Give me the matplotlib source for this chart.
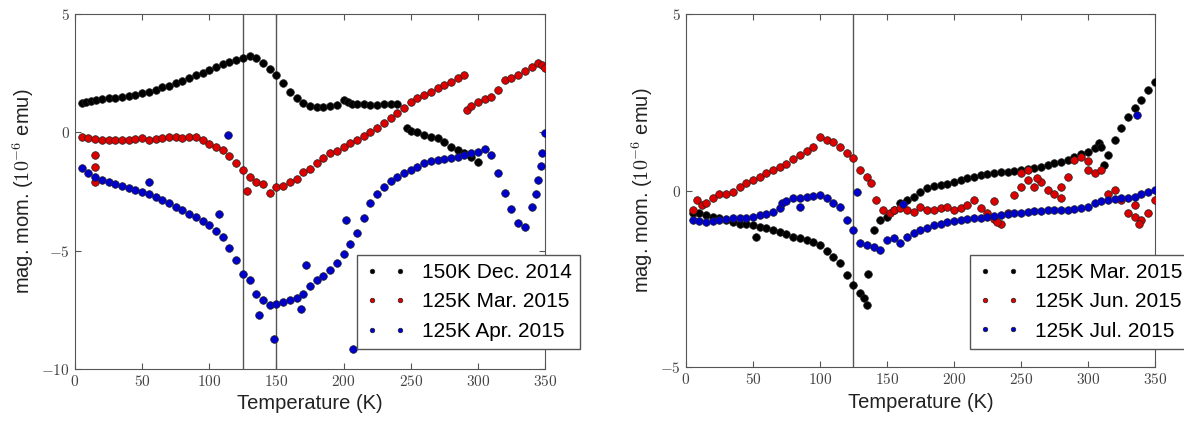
import matplotlib
matplotlib.use("Agg")
import matplotlib.pyplot as plt
from matplotlib.ticker import FuncFormatter

# --- panel (a): temperature (K) and magnetic moment (1e-6 emu) ---
dec14_T = [5, 8, 12, 16, 20, 25, 30, 35, 40, 45, 50, 55, 60, 65, 70, 75, 80, 85, 90, 95,
           100, 105, 110, 115, 120, 125, 130, 135, 140, 145, 150, 155, 160, 165, 170, 175,
           180, 185, 190, 195, 200, 203, 206, 210, 215, 220, 225, 230, 235, 240,
           247, 250, 255, 260, 265, 270, 275, 280, 285, 290, 295, 300]
dec14_M = [1.23, 1.28, 1.32, 1.38, 1.40, 1.44, 1.46, 1.50, 1.55, 1.60, 1.65, 1.72, 1.80, 1.90,
           1.98, 2.07, 2.18, 2.30, 2.42, 2.52, 2.64, 2.75, 2.88, 2.99, 3.07, 3.13, 3.23, 3.15,
           2.92, 2.70, 2.43, 2.10, 1.72, 1.45, 1.23, 1.12, 1.09, 1.08, 1.11, 1.15, 1.37, 1.30,
           1.22, 1.18, 1.20, 1.17, 1.15, 1.20, 1.18, 1.20,
           0.17, 0.08, 0.00, -0.11, -0.18, -0.25, -0.40, -0.60, -0.75, -0.89, -1.05, -1.24]

mar15_T = [5, 10, 15, 20, 25, 30, 35, 40, 45, 50, 55, 60, 65, 70, 75, 80, 85, 90, 95, 100,
           105, 110, 115, 120, 125, 130, 135, 140, 145, 150, 155, 160, 165, 170, 175, 180,
           185, 190, 195, 200, 205, 210, 215, 220, 225, 230, 235, 240, 245, 250, 255, 260,
           265, 270, 275, 280, 285, 290,
           292, 295, 300, 305, 310, 315, 320, 325, 330, 335, 340, 345, 348, 350,
           15, 15, 15, 128]
mar15_M = [-0.18, -0.25, -0.28, -0.30, -0.32, -0.30, -0.33, -0.30, -0.28, -0.25, -0.30, -0.28,
           -0.22, -0.20, -0.18, -0.22, -0.20, -0.18, -0.30, -0.47, -0.60, -0.75, -1.00, -1.31,
           -1.59, -1.88, -2.09, -2.16, -2.58, -2.30, -2.25, -2.09, -1.95, -1.66, -1.55, -1.31,
           -1.10, -0.89, -0.80, -0.61, -0.45, -0.32, -0.15, 0.03, 0.20, 0.38, 0.60, 0.80, 1.05,
           1.30, 1.45, 1.58, 1.72, 1.86, 2.00, 2.14, 2.28, 2.43,
           0.94, 1.10, 1.30, 1.40, 1.51, 1.80, 2.21, 2.30, 2.43, 2.60, 2.78, 2.92, 2.85, 2.71,
           -0.96, -1.45, -2.09, -2.47]

apr15_T = [5, 10, 15, 20, 25, 30, 35, 40, 45, 50, 55, 60, 65, 70, 75, 80, 85, 90, 95, 100,
           105, 110, 115, 120, 125, 130, 135, 140, 145, 150, 155, 160, 165, 170, 175, 180,
           185, 190, 195, 200, 205, 210, 215, 220, 225, 230, 235, 240, 245, 250, 255, 260,
           265, 270, 275, 280, 285, 290, 295, 300, 305, 310, 315, 320, 325, 330, 335, 340,
           343, 345, 347, 348, 350,
           114, 55, 107, 137, 148, 172, 168, 202, 207]
apr15_M = [-1.52, -1.70, -1.88, -2.00, -2.09, -2.20, -2.28, -2.37, -2.45, -2.51, -2.60, -2.72,
           -2.85, -3.00, -3.15, -3.30, -3.45, -3.57, -3.75, -3.92, -4.15, -4.41, -4.90, -5.40,
           -5.97, -6.25, -6.81, -7.09, -7.31, -7.24, -7.15, -7.09, -7.00, -6.81, -6.50, -6.25,
           -6.05, -5.83, -5.50, -5.12, -4.70, -4.27, -3.60, -3.00, -2.60, -2.30, -2.05, -1.88,
           -1.72, -1.59, -1.45, -1.31, -1.22, -1.17, -1.12, -1.10, -1.03, -0.96, -0.88, -0.82,
           -0.72, -0.96, -1.73, -2.58, -3.25, -3.85, -3.99, -3.15, -2.60, -2.02, -1.40, -0.89,
           -0.04,
           -0.11, -2.09, -3.43, -7.73, -8.72, -5.59, -7.45, -3.71, -9.17]

# --- panel (b) ---
mar15b_T = [5, 10, 15, 20, 25, 30, 35, 40, 45, 50, 55, 60, 65, 70, 75, 80, 85, 90, 95, 100,
            105, 110, 115, 120, 125, 130, 133, 135,
            140, 145, 150, 155, 160, 165, 170, 175, 180, 185, 190, 195, 200, 205, 210, 215,
            220, 225, 230, 235, 240, 245, 250, 255, 260, 265, 270, 275, 280, 285, 290, 295,
            300, 305, 308, 310, 312, 315, 320, 325, 330, 335, 340, 345, 350,
            52, 136]
mar15b_M = [-0.64, -0.64, -0.70, -0.74, -0.78, -0.83, -0.88, -0.93, -0.95, -0.97, -1.02, -1.07,
            -1.10, -1.16, -1.22, -1.30, -1.35, -1.40, -1.45, -1.54, -1.70, -1.87, -2.06, -2.39,
            -2.67, -2.91, -3.05, -3.24,
            -1.11, -0.83, -0.74, -0.55, -0.36, -0.25, -0.17, -0.05, 0.07, 0.12, 0.16, 0.20,
            0.25, 0.30, 0.35, 0.40, 0.44, 0.47, 0.49, 0.52, 0.54, 0.57, 0.59, 0.61, 0.63, 0.68,
            0.73, 0.78, 0.82, 0.88, 0.96, 1.03, 1.10, 1.20, 1.34, 1.25, 0.73, 1.00, 1.44, 1.78,
            2.10, 2.35, 2.57, 2.85, 3.09,
            -1.32, -2.36]

jun15_T = [5, 8, 12, 15, 20, 25, 30, 35, 40, 45, 50, 55, 60, 65, 70, 75, 80, 85, 90, 95, 100,
           105, 110, 115, 120, 125, 130, 135, 138, 142, 147, 152, 155, 160, 165, 170, 175,
           180, 185, 190, 195, 200, 205, 210, 215, 220, 225, 230, 235, 240, 245, 250, 255,
           260, 265, 270, 275, 280, 285, 290, 295, 300, 305, 310, 315, 320, 325, 330, 335,
           340, 345, 350,
           230, 232, 250, 255, 262, 280, 300, 335, 338]
jun15_M = [-0.55, -0.26, -0.40, -0.36, -0.20, -0.08, -0.10, -0.03, 0.10, 0.21, 0.30, 0.40,
           0.50, 0.59, 0.68, 0.77, 0.90, 1.01, 1.12, 1.25, 1.53, 1.44, 1.39, 1.25, 1.06, 0.92,
           0.59, 0.40, 0.21, -0.26, -0.55, -0.64, -0.55, -0.50, -0.55, -0.60, -0.45, -0.55,
           -0.55, -0.50, -0.45, -0.55, -0.50, -0.40, -0.26, -0.50, -0.64, -0.80, -0.93, -0.64,
           -0.12, 0.49, 0.30, 0.11, 0.25, 0.02, -0.08, 0.11, 0.40, 0.87, 0.96, 0.59, 0.49, 0.59,
           -0.08, 0.02, -0.26, -0.64, -0.74, -0.83, -0.64, -0.26,
           -0.30, -0.90, 0.10, 0.60, 0.35, -0.20, 0.85, -0.40, -0.95]

jul15_T = [5, 10, 15, 20, 25, 30, 35, 40, 45, 50, 55, 60, 65, 70, 72, 75, 80, 85, 90, 95, 100,
           105, 110, 115, 120, 125, 130, 135, 140, 145, 150, 155, 160, 165, 170, 175, 180,
           185, 190, 195, 200, 205, 210, 215, 220, 225, 230, 235, 240, 245, 250, 255, 260,
           265, 270, 275, 280, 285, 290, 295, 300, 305, 310, 315, 320, 325, 330, 335, 340,
           345, 350,
           128, 337, 162, 85]
jul15_M = [-0.83, -0.85, -0.88, -0.85, -0.83, -0.80, -0.78, -0.78, -0.78, -0.74, -0.69, -0.65,
           -0.59, -0.50, -0.36, -0.30, -0.22, -0.20, -0.17, -0.15, -0.12, -0.22, -0.36, -0.45,
           -0.83, -1.11, -1.49, -1.55, -1.59, -1.68, -1.40, -1.35, -1.49, -1.30, -1.20, -1.11,
           -1.05, -0.97, -0.93, -0.88, -0.85, -0.83, -0.80, -0.78, -0.76, -0.74, -0.71, -0.69,
           -0.66, -0.64, -0.62, -0.59, -0.58, -0.57, -0.56, -0.55, -0.55, -0.55, -0.53, -0.50,
           -0.45, -0.36, -0.30, -0.26, -0.24, -0.22, -0.20, -0.17, -0.10, -0.03, 0.02,
           -0.03, 2.14, -0.38, -0.45]

left_series = [(dec14_T, dec14_M, "k", "150K Dec. 2014"),
               (mar15_T, mar15_M, "#dd0000", "125K Mar. 2015"),
               (apr15_T, apr15_M, "#0000cc", "125K Apr. 2015")]
right_series = [(mar15b_T, mar15b_M, "k", "125K Mar. 2015"),
                (jun15_T, jun15_M, "#dd0000", "125K Jun. 2015"),
                (jul15_T, jul15_M, "#0000cc", "125K Jul. 2015")]

plt.rcParams["font.family"] = ["Liberation Sans", "DejaVu Sans"]
plt.rcParams["mathtext.fontset"] = "cm"

gray = "#555555"
tickfmt = FuncFormatter(lambda v, p: "$%d$" % v)

fig = plt.figure(figsize=(11.84, 4.21), dpi=100)
ax1 = fig.add_axes([0.0633, 0.1235, 0.397, 0.843])
ax2 = fig.add_axes([0.5794, 0.128, 0.396, 0.838])


def draw(ax, series, ylim, yticks, vlines, anchor):
    for T, M, c, lab in series:
        ax.plot(T, M, "o", color=c, mec="#222222", mew=0.5, ms=5.5, label=lab, zorder=3)
    for v in vlines:
        ax.axvline(v, color=gray, lw=1.0, zorder=2)
    ax.set_xlim(0, 350)
    ax.set_ylim(*ylim)
    ax.set_xticks(range(0, 351, 50))
    ax.set_yticks(yticks)
    ax.xaxis.set_major_formatter(tickfmt)
    ax.yaxis.set_major_formatter(tickfmt)
    ax.tick_params(direction="in", top=True, right=True, labelsize=11,
                   labelcolor="#444444", color=gray, length=4)
    for s in ax.spines.values():
        s.set_color(gray)
    ax.set_xlabel("Temperature (K)", fontsize=14.5, color="#222222", labelpad=4)
    ax.set_ylabel("mag. mom. ($10^{-6}$ emu)", fontsize=14.5, color="#222222")
    leg = ax.legend(loc="lower left", bbox_to_anchor=anchor, numpoints=2, markerscale=0.6,
                    fontsize=15, fancybox=False, framealpha=1, borderaxespad=0,
                    handlelength=1.95, handletextpad=0.77, labelspacing=0.5,
                    borderpad=0.4)
    leg.get_frame().set_edgecolor(gray)
    leg.set_zorder(5)


draw(ax1, left_series, (-10, 5), [-10, -5, 0, 5], [125, 150], (0.60, 0.056))
draw(ax2, right_series, (-5, 5), [-5, 0, 5], [125], (0.606, 0.051))

fig.savefig("out.png", dpi=100)
